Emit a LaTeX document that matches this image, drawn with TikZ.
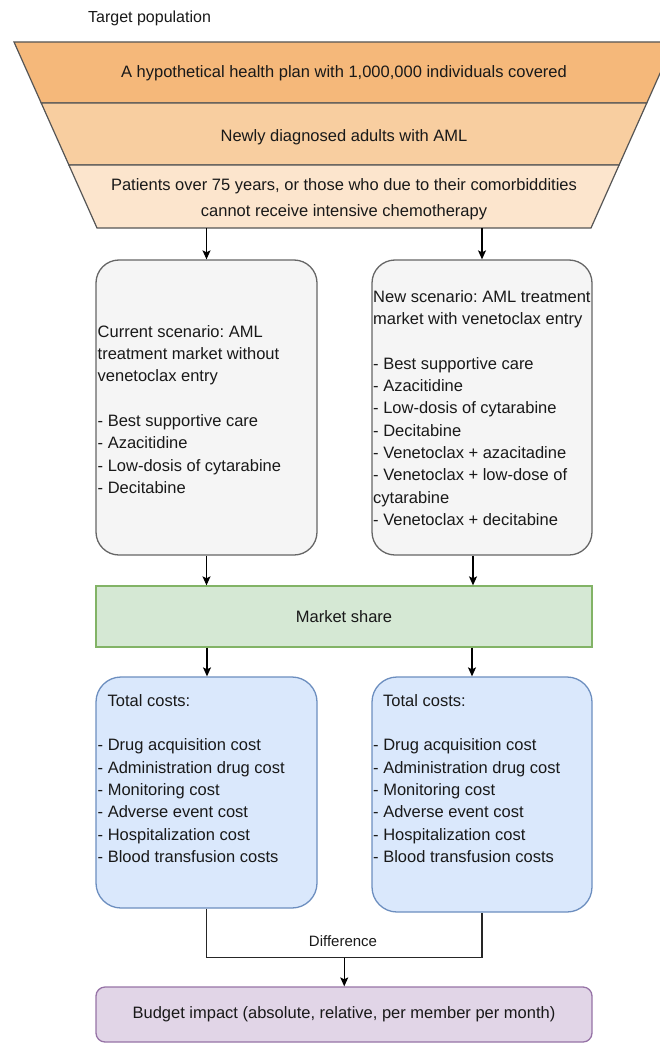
\documentclass[tikz,border=0pt]{standalone}
\usepackage{fontspec}
\setmainfont{Liberation Sans}
\usetikzlibrary{arrows.meta,calc}
\frenchspacing
\definecolor{bandA}{RGB}{245,184,122}
\definecolor{bandB}{RGB}{248,206,160}
\definecolor{bandC}{RGB}{252,229,205}
\definecolor{fstroke}{RGB}{85,85,85}
\definecolor{txt}{RGB}{25,25,25}
\definecolor{grayfill}{HTML}{F5F5F5}
\definecolor{graystroke}{HTML}{666666}
\definecolor{greenfill}{HTML}{D5E8D4}
\definecolor{greenstroke}{HTML}{82B366}
\definecolor{bluefill}{HTML}{DAE8FC}
\definecolor{bluestroke}{HTML}{6C8EBF}
\definecolor{purplefill}{HTML}{E1D5E7}
\definecolor{purplestroke}{HTML}{9673A6}
\tikzset{
  x=1pt, y=-1pt,
  every node/.style={text=txt},
  base/.style={font=\frenchspacing\fontsize{16.5pt}{22.3pt}\selectfont},
  band/.style={draw=fstroke, line width=1.2pt},
  scen/.style={draw=graystroke, fill=grayfill, line width=1.3pt, rounded corners=23pt,
    minimum width=221pt, minimum height=295pt, inner sep=0pt},
  costbox/.style={draw=bluestroke, fill=bluefill, line width=1.3pt, rounded corners=25pt,
    minimum width=221pt, inner sep=0pt},
  share/.style={draw=greenstroke, fill=greenfill, line width=1.3pt,
    minimum width=496pt, minimum height=61pt, inner sep=0pt, base},
  budgetbox/.style={draw=purplestroke, fill=purplefill, line width=1.3pt, rounded corners=9pt,
    minimum width=496pt, minimum height=55pt, inner sep=0pt, base},
  listtext/.style={base, align=left, anchor=west, inner sep=0pt},
  arr/.style={draw=black, line width=1.2pt, -{Stealth[length=9pt,width=8pt,inset=2pt]}},
  link/.style={draw=black!85, line width=1.2pt}
}
\begin{document}
\begin{tikzpicture}
\useasboundingbox (0,0) rectangle (660,1043);
% funnel
\begin{scope}
\clip (0,0) rectangle (660,1043);
\filldraw[band, fill=bandA] (14,42) -- (674,42) -- (646.8,103) -- (41.2,103) -- cycle;
\filldraw[band, fill=bandB] (41.2,103) -- (646.8,103) -- (619.1,165) -- (68.9,165) -- cycle;
\filldraw[band, fill=bandC] (68.9,165) -- (619.1,165) -- (591,228) -- (97,228) -- cycle;
\end{scope}
\coordinate (fbot) at (344,228);
\node[font=\fontsize{16pt}{18pt}\selectfont, anchor=west, inner sep=0pt] (target) at (88,18) {Target population};
\node[base] (b1) at (344,73) {A hypothetical health plan with 1,000,000 individuals covered};
\node[base] (b2) at (344,137) {Newly diagnosed adults with AML};
\node[font=\frenchspacing\fontsize{16.5pt}{26pt}\selectfont, align=center] (b3) at (344,199)
  {Patients over 75 years, or those who due to their comorbiddities\\cannot receive intensive chemotherapy};

% scenario boxes
\node[scen] (cur) at (206.5,407.5) {};
\node[scen, minimum width=220pt] (new) at (482,407.5) {};
\node[listtext] (curtxt) at (97.5,409.5) {Current scenario: AML\\treatment market without\\venetoclax entry\\[22.3pt]- Best supportive care\\- Azacitidine\\- Low-dosis of cytarabine\\- Decitabine};
\node[listtext] (newtxt) at (373,408) {New scenario: AML treatment\\market with venetoclax entry\\[22.3pt]- Best supportive care\\- Azacitidine\\- Low-dosis of cytarabine\\- Decitabine\\- Venetoclax + azacitadine\\- Venetoclax + low-dose of\\cytarabine\\- Venetoclax + decitabine};

\draw[arr] (fbot -| cur.north) -- (cur.north);
\draw[arr] (fbot -| new.north) -- (new.north);

% market share
\node[share] (market) at (344,616.5) {Market share};
\draw[arr] (cur.south) -- (cur.south |- market.north);
\draw[arr] ([xshift=-9pt]new.south) -- ([xshift=-9pt]new.south |- market.north);

% cost boxes
\node[costbox, minimum height=231pt] (costL) at (206.5,792.5) {};
\node[costbox, minimum width=220pt, minimum height=235pt] (costR) at (482,794.5) {};
\node[listtext] (costLtxt) at (97.5,778.5) {\hspace*{10pt}Total costs:\\[22.3pt]- Drug acquisition cost\\- Administration drug cost\\- Monitoring cost\\- Adverse event cost\\- Hospitalization cost\\- Blood transfusion costs};
\node[listtext] (costRtxt) at (373,778.5) {\hspace*{10pt}Total costs:\\[22.3pt]- Drug acquisition cost\\- Administration drug cost\\- Monitoring cost\\- Adverse event cost\\- Hospitalization cost\\- Blood transfusion costs};
\draw[arr] ([xshift=0.5pt]market.south -| costL.north) -- ([xshift=0.5pt]costL.north);
\draw[arr] ([xshift=-10pt]market.south -| costR.north) -- ([xshift=-10pt]costR.north);

% difference
\draw[link] (costL.south) -- ++(0,49) coordinate (dl) -- (dl -| costR.south) coordinate (dr) -- (costR.south);
\coordinate (dm) at ($(dl)!0.5!(dr)$);
\node[font=\fontsize{15pt}{16pt}\selectfont, inner sep=0pt] (difflbl) at (343,941) {Difference};

% budget impact
\node[budgetbox] (budget) at (344,1014.5) {Budget impact (absolute, relative, per member per month)};
\draw[arr] (dm) -- (dm |- budget.north);
\end{tikzpicture}
\end{document}
